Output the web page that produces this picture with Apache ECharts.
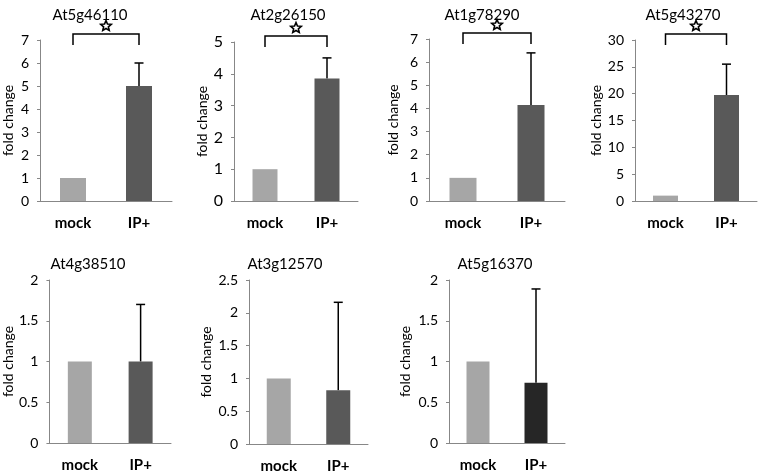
<!DOCTYPE html>
<html><head><meta charset="utf-8">
<script src="https://cdn.jsdelivr.net/npm/echarts@6/dist/echarts.min.js"></script>
<style>html,body{margin:0;padding:0;background:#fff}#c{width:760px;height:476px}</style>
</head><body><div id="c"></div>
<script>
const genes = ['At5g46110','At2g26150','At1g78290','At5g43270','At4g38510','At3g12570','At5g16370'];
const categories = ['mock','IP+'];
const mockValues = [1,1,1,1,1,1,1];
const ipValues = [5.0,3.85,4.15,19.75,1.0,0.82,0.74];
const ipErrorTop = [6.0,4.5,6.4,25.5,1.7,2.16,1.89];
const yMax = [7,5,7,30,2,2.5,2];
const yInterval = [1,1,1,5,0.5,0.5,0.5];
const significant = [true,true,true,true,false,false,false];

const FONT = 'Lato, "Liberation Sans", sans-serif';
const layout = [
  {left:40, top:40, width:132, height:161, bw:26, ng:25, tx:85, ty:3, fs:14},
  {left:234, top:42, width:124, height:159, bw:25, ng:24, tx:283, ty:3, fs:16},
  {left:429, top:39, width:136, height:162, bw:27, ng:29, tx:477, ty:3, fs:14},
  {left:635, top:40, width:122, height:161, bw:25, ng:31, tx:678, ty:3, fs:14},
  {left:49, top:280, width:122, height:163, bw:24, ng:34, tx:83, ty:252, fs:14},
  {left:249, top:280, width:119, height:164, bw:24, ng:36, tx:280, ty:252, fs:14},
  {left:449, top:280, width:116, height:163, bw:23, ng:37, tx:490, ty:252, fs:14}
];
const mockColor = '#a6a6a6';
const ipColors = ['#595959','#595959','#595959','#595959','#595959','#595959','#262626'];
const axisColor = '#878787';

const grid=[], xAxis=[], yAxis=[], series=[], title=[];
genes.forEach((g,i)=>{
  const L = layout[i];
  grid.push({left:L.left, top:L.top, width:L.width, height:L.height});
  title.push({text:g, left:L.tx, top:L.ty, textAlign:'center',
    textStyle:{fontFamily:FONT, fontSize:15, fontWeight:'normal', color:'#000'}});
  xAxis.push({type:'category', gridIndex:i, data:categories,
    axisLine:{lineStyle:{color:axisColor, width:1}}, axisTick:{show:false},
    axisLabel:{fontFamily:FONT, fontSize:15, fontWeight:'bold', color:'#000', margin:15}});
  yAxis.push({type:'value', gridIndex:i, min:0, max:yMax[i], interval:yInterval[i],
    name:'fold change', nameLocation:'middle', nameRotate:90, nameGap:L.ng,
    nameTextStyle:{fontFamily:FONT, fontSize:14, color:'#000'},
    axisLine:{show:true, lineStyle:{color:axisColor, width:1}},
    axisTick:{show:true, length:3, lineStyle:{color:axisColor}},
    splitLine:{show:false},
    axisLabel:{fontFamily:FONT, fontSize:L.fs, color:'#000', margin:11}});
  series.push({type:'bar', xAxisIndex:i, yAxisIndex:i, barWidth:L.bw,
    data:[{value:mockValues[i], itemStyle:{color:mockColor}},
          {value:ipValues[i], itemStyle:{color:ipColors[i]}}]});
  series.push({type:'custom', xAxisIndex:i, yAxisIndex:i, clip:false,
    data:[[1, ipValues[i], ipErrorTop[i]]],
    renderItem:(params, api)=>{
      const p0 = api.coord([api.value(0), api.value(1)]);
      const p1 = api.coord([api.value(0), api.value(2)]);
      const st = {stroke:'#000', lineWidth:1.5};
      return {type:'group', children:[
        {type:'line', shape:{x1:p0[0], y1:p0[1], x2:p1[0], y2:p1[1]}, style:st},
        {type:'line', shape:{x1:p1[0]-4.5, y1:p1[1], x2:p1[0]+4.5, y2:p1[1]}, style:st}
      ]};
    }});
  if (significant[i]) {
    series.push({type:'custom', xAxisIndex:i, yAxisIndex:i, clip:false,
      data:[[0, 1, yMax[i]]],
      renderItem:(params, api)=>{
        const a = api.coord([api.value(0), api.value(2)]);
        const b = api.coord([api.value(1), api.value(2)]);
        const top = a[1] - 6, bot = a[1] + 5;
        const st = {stroke:'#000', lineWidth:1.5, fill:null};
        const cx = (a[0]+b[0])/2, cy = top - 8;
        const pts = [];
        for (let k=0;k<10;k++){
          const r = k%2===0 ? 5.5 : 2.5;
          const ang = -Math.PI/2 + k*Math.PI/5;
          pts.push([cx + r*Math.cos(ang), cy + r*Math.sin(ang)]);
        }
        return {type:'group', children:[
          {type:'polyline', shape:{points:[[a[0],bot],[a[0],top],[b[0],top],[b[0],bot]]}, style:st},
          {type:'polygon', shape:{points:pts}, style:{stroke:'#000', lineWidth:1.6, fill:'#fff'}}
        ]};
      }});
  }
});

const chart = echarts.init(document.getElementById('c'), null, {renderer:'canvas'});
chart.setOption({animation:false, backgroundColor:'#fff', title, grid, xAxis, yAxis, series});
</script></body></html>
